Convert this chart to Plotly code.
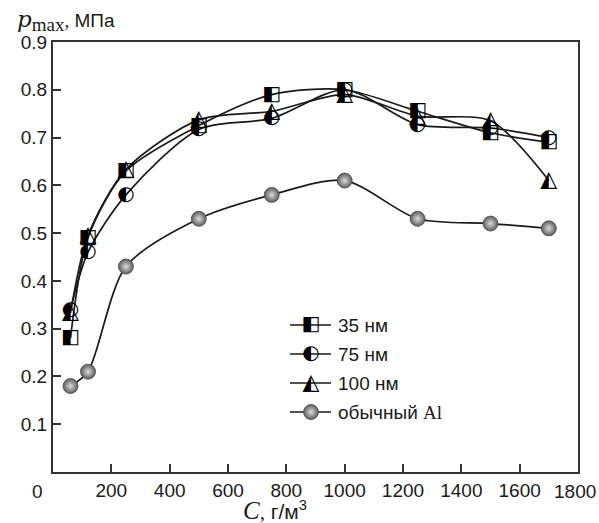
import plotly.graph_objects as go

# ---- data ----
conc = [60, 120, 250, 500, 750, 1000, 1250, 1500, 1700]
p_35 = [0.28, 0.49, 0.63, 0.725, 0.79, 0.80, 0.755, 0.71, 0.69]
p_75 = [0.34, 0.46, 0.58, 0.717, 0.74, 0.80, 0.727, 0.72, 0.70]
p_100 = [0.333, 0.495, 0.633, 0.737, 0.755, 0.79, 0.745, 0.735, 0.61]
p_al = [0.18, 0.21, 0.43, 0.53, 0.58, 0.61, 0.53, 0.52, 0.51]

names = ["35 нм", "75 нм", "100 нм", "обычный <span style=\"font-family:'Liberation Serif'\">Al</span>"]
xticks = [200, 400, 600, 800, 1000, 1200, 1400, 1600, 1800]
xticklabels = [str(v) for v in xticks]
yticks = [0.1, 0.2, 0.3, 0.4, 0.5, 0.6, 0.7, 0.8, 0.9]
yticklabels = ["%.1f" % v for v in yticks]

INK = "#1a1a1a"
GLYPH_FONT = "DejaVu Sans"
TICKFONT = dict(family="Liberation Sans", size=19, color=INK)
W, H = 599, 523
ML, MR, MT, MB = 53, 21, 42, 51
XR, YR = (0, 1800), (0, 0.9)
PW, PH = W - ML - MR, H - MT - MB


def px2x(px):
    return XR[0] + (px - ML) / PW * (XR[1] - XR[0])


def py2y(py):
    return YR[0] + (H - MB - py) / PH * (YR[1] - YR[0])


def px2paper(px):
    return (px - ML) / PW


def py2paper(py):
    return (H - MB - py) / PH


fig = go.Figure()

series = [(p_35, "◧", 20), (p_75, "◐", 20), (p_100, "◭", 22)]
LINE = dict(color=INK, width=1.7, shape="spline", smoothing=0.8)

for vals, g, s in series:
    fig.add_trace(go.Scatter(x=conc, y=vals, mode="lines", line=LINE,
                             showlegend=False, hoverinfo="skip"))
fig.add_trace(go.Scatter(x=conc, y=p_al, mode="lines", line=LINE,
                         showlegend=False, hoverinfo="skip"))

for vals, g, s in series:
    fig.add_trace(go.Scatter(x=conc, y=vals, mode="text", text=[g] * len(conc),
                             textposition="middle center",
                             textfont=dict(family=GLYPH_FONT, size=s, color="black"),
                             showlegend=False, hoverinfo="skip"))

sphere = dict(size=15, color="#5c5c5c", gradient=dict(type="radial", color="#dcdcdc"),
              line=dict(color="#4a4a4a", width=0.8))
fig.add_trace(go.Scatter(x=conc, y=p_al, mode="markers", marker=sphere,
                         showlegend=False, hoverinfo="skip"))

# ---- manual legend ----
leg_y = [325, 354, 383, 412]
glyphs = ["◧", "◐", "◭"]
sizes = [20, 20, 22]
for i, yy in enumerate(leg_y):
    fig.add_trace(go.Scatter(x=[px2x(290), px2x(331)], y=[py2y(yy), py2y(yy)], mode="lines",
                             line=dict(color=INK, width=1.7), showlegend=False, hoverinfo="skip"))
    if i < 3:
        fig.add_trace(go.Scatter(x=[px2x(311)], y=[py2y(yy)], mode="text", text=[glyphs[i]],
                                 textposition="middle center",
                                 textfont=dict(family=GLYPH_FONT, size=sizes[i], color="black"),
                                 showlegend=False, hoverinfo="skip"))
    else:
        fig.add_trace(go.Scatter(x=[px2x(311)], y=[py2y(yy)], mode="markers", marker=sphere,
                                 showlegend=False, hoverinfo="skip"))
    fig.add_annotation(x=px2paper(336), y=py2paper(yy), xref="paper", yref="paper", text=names[i],
                       showarrow=False, xanchor="left", yanchor="middle",
                       font=dict(family="Liberation Sans", size=19, color=INK))

# axis titles and corner zero
fig.add_annotation(x=px2paper(15), y=py2paper(37), xref="paper", yref="paper",
                   xanchor="left", yanchor="bottom", showarrow=False,
                   text="<span style=\"font-family:'DejaVu Serif';font-style:italic;font-size:23px\">p</span>"
                        "<sub><span style=\"font-family:'Liberation Serif';font-size:19px\">max</span></sub>"
                        "<span style=\"font-family:'Liberation Serif'\">,</span>&nbsp;МПа",
                   font=dict(family="Liberation Sans", size=19, color=INK))
fig.add_annotation(x=px2paper(241), y=py2paper(511), xref="paper", yref="paper",
                   xanchor="left", yanchor="middle", showarrow=False,
                   text="<span style=\"font-family:'Liberation Serif';font-style:italic;font-size:25px\">C</span>"
                        "<span style=\"font-family:'Liberation Serif'\">,</span>&nbsp;г/м<sup>3</sup>",
                   font=dict(family="Liberation Sans", size=21, color=INK))
fig.add_annotation(x=px2paper(37), y=py2paper(491), xref="paper", yref="paper",
                   xanchor="center", yanchor="middle", showarrow=False,
                   text="0", font=TICKFONT)
# last x tick label placed flush with the right edge so it does not overflow the page
fig.add_annotation(x=px2paper(598), y=py2paper(491), xref="paper", yref="paper",
                   xanchor="right", yanchor="middle", showarrow=False,
                   text=xticklabels[-1], font=TICKFONT)

AX = dict(ticks="inside", ticklen=8, tickwidth=2, tickcolor="#333",
          showline=True, linewidth=2, linecolor="#333", mirror=True,
          showgrid=False, zeroline=False, tickfont=TICKFONT)

fig.update_layout(
    width=W, height=H,
    margin=dict(l=ML, r=MR, t=MT, b=MB),
    paper_bgcolor="white", plot_bgcolor="white",
    showlegend=False,
    xaxis=dict(range=list(XR), tickvals=xticks, ticktext=xticklabels[:-1] + [""], **AX),
    yaxis=dict(range=list(YR), tickvals=yticks, ticktext=yticklabels, **AX),
)

fig.write_html("out.html", config={"displayModeBar": False},
               post_script="document.body.style.margin='0';document.body.style.padding='0';")
